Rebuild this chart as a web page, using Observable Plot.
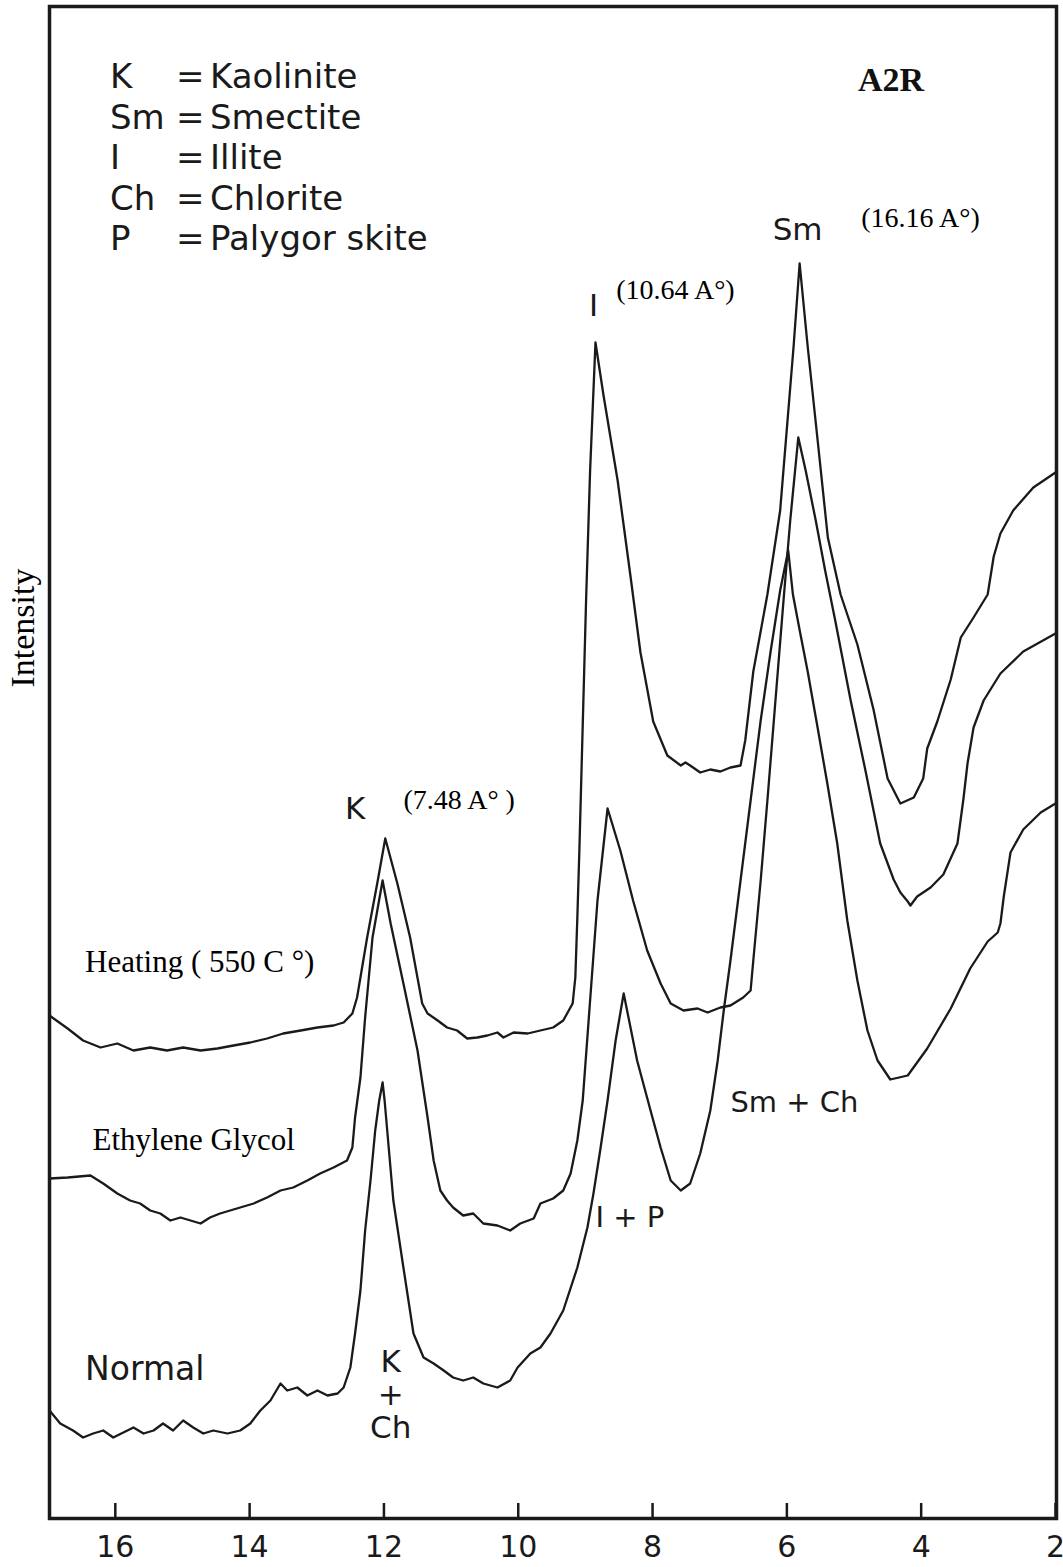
<!DOCTYPE html>
<html>
<head>
<meta charset="utf-8">
<script src="https://cdn.jsdelivr.net/npm/d3@7"></script>
<script src="https://cdn.jsdelivr.net/npm/@observablehq/plot@0.6"></script>
<style>
  html, body { margin: 0; padding: 0; background: #fff; }
  #wrap { position: relative; width: 1063px; height: 1567px; }
  #legend { position: absolute; left: 110px; top: 56px; font-family: "DejaVu Sans", sans-serif; font-size: 34px; line-height: 40.5px; color: #1a1a1a; }
  #legend .row { display: flex; white-space: pre; }
  #legend .k { width: 66px; }
  #legend .eq { width: 34px; }
  #title { position: absolute; left: 891px; top: 63px; transform: translateX(-50%); font-family: "Liberation Serif", serif; font-weight: bold; font-size: 34px; line-height: 34px; color: #111; }
</style>
</head>
<body>
<div id="wrap"></div>
<script>
// ---- data: diffraction angle (2θ, degrees) vs intensity (arbitrary units) ----
const xTicks = [16, 14, 12, 10, 8, 6, 4, 2];

const heating = [
  [16.98,503],[16.71,490],[16.48,478],[16.22,471],[15.97,475],[15.73,468],[15.48,471],[15.23,468],
  [14.99,471],[14.73,468],[14.48,470],[14.24,473],[13.99,476],[13.74,480],[13.50,485],[13.24,488],
  [12.99,491],[12.75,493],[12.60,496],[12.47,505],[12.40,521],[12.25,581],[12.10,635],[11.98,680],
  [11.80,635],[11.61,581],[11.43,515],[11.35,505],[11.20,498],[11.06,491],[10.91,488],[10.76,480],
  [10.61,481],[10.46,483],[10.31,486],[10.22,481],[10.07,486],[9.86,485],[9.67,488],[9.48,491],
  [9.33,498],[9.19,515],[9.15,541],[9.12,601],[9.09,668],[9.05,768],[8.99,918],[8.93,1048],
  [8.85,1176],[8.73,1123],[8.52,1038],[8.33,943],[8.18,866],[7.99,797],[7.78,763],[7.58,753],
  [7.51,756],[7.44,753],[7.29,746],[7.14,749],[6.99,747],[6.84,751],[6.69,753],[6.62,778],
  [6.50,847],[6.29,924],[6.10,1008],[5.90,1172],[5.81,1255],[5.69,1172],[5.54,1077],[5.39,981],
  [5.20,924],[4.95,874],[4.71,809],[4.50,740],[4.31,715],[4.11,721],[3.97,740],[3.91,770],
  [3.76,797],[3.56,839],[3.41,881],[3.22,901],[3.01,924],[2.92,962],[2.82,985],[2.63,1008],
  [2.33,1031],[2.00,1046]
];

const glycol = [
  [16.98,340],[16.71,341],[16.37,343],[16.18,335],[15.97,325],[15.78,318],[15.63,315],[15.48,308],
  [15.33,305],[15.18,298],[15.03,301],[14.88,298],[14.73,295],[14.59,301],[14.44,305],[14.29,308],
  [14.14,311],[13.94,315],[13.74,321],[13.54,328],[13.35,331],[13.14,338],[12.95,345],[12.75,351],
  [12.55,358],[12.47,371],[12.43,401],[12.35,441],[12.28,501],[12.17,581],[12.02,638],[11.90,595],
  [11.71,535],[11.50,468],[11.35,401],[11.26,358],[11.16,328],[11.06,318],[10.97,311],[10.82,303],
  [10.67,305],[10.52,295],[10.31,293],[10.12,288],[9.97,295],[9.77,300],[9.67,315],[9.48,320],
  [9.33,328],[9.22,345],[9.12,378],[9.04,418],[8.93,518],[8.82,618],[8.67,710],[8.48,668],
  [8.29,618],[8.08,568],[7.88,535],[7.73,515],[7.54,508],[7.33,510],[7.18,506],[6.99,511],
  [6.84,513],[6.65,521],[6.54,528],[6.50,558],[6.39,638],[6.29,718],[6.17,818],[6.05,918],
  [5.95,998],[5.83,1081],[5.72,1048],[5.57,998],[5.43,948],[5.28,898],[5.05,818],[4.83,748],
  [4.61,675],[4.41,639],[4.31,626],[4.20,617],[4.16,613],[4.06,622],[3.86,631],[3.67,644],
  [3.46,675],[3.37,720],[3.31,755],[3.22,791],[3.07,818],[2.82,845],[2.48,867],[2.00,885]
];

const normal = [
  [16.98,108],[16.82,95],[16.63,88],[16.48,81],[16.33,85],[16.18,88],[16.03,81],[15.88,86],
  [15.73,91],[15.58,85],[15.43,88],[15.29,95],[15.14,88],[14.99,98],[14.84,91],[14.69,85],
  [14.54,88],[14.33,85],[14.14,88],[13.99,95],[13.84,108],[13.69,118],[13.54,135],[13.44,128],
  [13.29,131],[13.14,123],[12.99,128],[12.84,123],[12.69,125],[12.60,131],[12.50,151],[12.43,185],
  [12.35,228],[12.28,288],[12.20,338],[12.13,388],[12.07,418],[12.02,436],[11.99,418],[11.86,318],
  [11.71,251],
  [11.56,185],[11.41,161],[11.26,155],[11.11,148],[10.97,141],[10.82,138],[10.67,141],[10.52,135],
  [10.31,131],[10.12,138],[10.01,151],[9.82,165],[9.67,171],[9.52,185],[9.33,208],[9.12,251],
  [8.97,291],[8.88,325],[8.78,368],[8.67,418],[8.55,478],[8.43,525],[8.23,458],[8.03,408],
  [7.88,371],[7.73,338],[7.58,328],[7.44,335],[7.29,365],[7.14,408],[7.03,458],[6.94,508],
  [6.84,558],[6.69,638],[6.54,718],[6.39,798],[6.24,868],[6.10,928],[5.98,968],[5.91,924],
  [5.80,885],[5.69,847],[5.54,790],[5.39,732],[5.25,675],[5.10,598],[4.95,538],[4.80,488],
  [4.65,458],[4.46,439],[4.20,443],[3.91,470],[3.56,510],[3.27,550],[3.01,577],[2.86,586],
  [2.82,595],[2.77,622],[2.67,666],[2.48,689],[2.22,706],[2.00,715]
];

// peak / phase annotations (2θ, intensity)
const peakLetters = [
  { text: "K", t: 12.43, i: 710 },
  { text: "I", t: 8.88, i: 1213 },
  { text: "Sm", t: 5.84, i: 1289 },
  { text: "K\n+\nCh", t: 11.90, i: 124 }
];
const mixLabels = [
  { text: "I + P", t: 8.85, i: 301 },
  { text: "Sm + Ch", t: 6.84, i: 416 }
];
const spacings = [
  { text: "(7.48 A° )", t: 10.88, i: 718 },
  { text: "(10.64 A°)", t: 7.66, i: 1228 },
  { text: "(16.16 A°)", t: 4.01, i: 1300 }
];
const treatments = [
  { text: "Heating ( 550 C °)", t: 16.45, i: 556 },
  { text: "Ethylene Glycol", t: 16.34, i: 378 }
];
const untreated = [{ text: "Normal", t: 16.45, i: 149 }];

const legendKeys = ["K", "Sm", "I", "Ch", "P"];
const legendNames = ["Kaolinite", "Smectite", "Illite", "Chlorite", "Palygor skite"];
const sampleName = "A2R";
const yLabel = "Intensity";

// ---- build ----
const rows = [
  ...heating.map(([t, i]) => ({ series: "Heating", t, i })),
  ...glycol.map(([t, i]) => ({ series: "Ethylene Glycol", t, i })),
  ...normal.map(([t, i]) => ({ series: "Normal", t, i }))
];

const ink = "#1a1a1a";
const sans = "DejaVu Sans, sans-serif";
const serif = "Liberation Serif, Times New Roman, serif";

const chart = Plot.plot({
  width: 1063,
  height: 1567,
  marginLeft: 49,
  marginRight: 7,
  marginTop: 6,
  marginBottom: 49,
  style: { background: "#fff", overflow: "visible" },
  x: { domain: [16.98, 1.985] },
  y: { domain: [0, 1512], axis: null },
  marks: [
    Plot.line(rows, { x: "t", y: "i", z: "series", stroke: ink, strokeWidth: 2.3,
                      strokeLinejoin: "round" }),
    Plot.frame({ stroke: ink, strokeWidth: 3.5 }),
    Plot.axisX({ ticks: xTicks, tickSize: -15, tickPadding: 32, strokeWidth: 2.5, stroke: ink,
                 fontSize: 30, fontFamily: sans, fill: ink, label: null }),
    Plot.text(peakLetters, { x: "t", y: "i", text: "text", textAnchor: "middle", fontSize: 31,
                             fontFamily: sans, fill: ink, lineHeight: 1.07 }),
    Plot.text(mixLabels, { x: "t", y: "i", text: "text", textAnchor: "start", fontSize: 29,
                           fontFamily: sans, fill: ink }),
    Plot.text(untreated, { x: "t", y: "i", text: "text", textAnchor: "start", fontSize: 33,
                           fontFamily: sans, fill: ink }),
    Plot.text(spacings, { x: "t", y: "i", text: "text", textAnchor: "middle", fontSize: 28,
                          fontFamily: serif, fill: "#000" }),
    Plot.text(treatments, { x: "t", y: "i", text: "text", textAnchor: "start", fontSize: 31,
                            fontFamily: serif, fill: "#000" }),
    Plot.text([yLabel], { text: d => d, frameAnchor: "left", rotate: -90, dx: -26, dy: -75,
                          fontSize: 34, fontFamily: serif, fill: "#000" })
  ]
});

const wrap = document.getElementById("wrap");
wrap.appendChild(chart);

const legend = document.createElement("div");
legend.id = "legend";
legendKeys.forEach((k, j) => {
  const r = document.createElement("div");
  r.className = "row";
  r.innerHTML = `<span class="k">${k}</span><span class="eq">=</span><span>${legendNames[j]}</span>`;
  legend.appendChild(r);
});
wrap.appendChild(legend);

const title = document.createElement("div");
title.id = "title";
title.textContent = sampleName;
wrap.appendChild(title);
</script>
</body>
</html>
